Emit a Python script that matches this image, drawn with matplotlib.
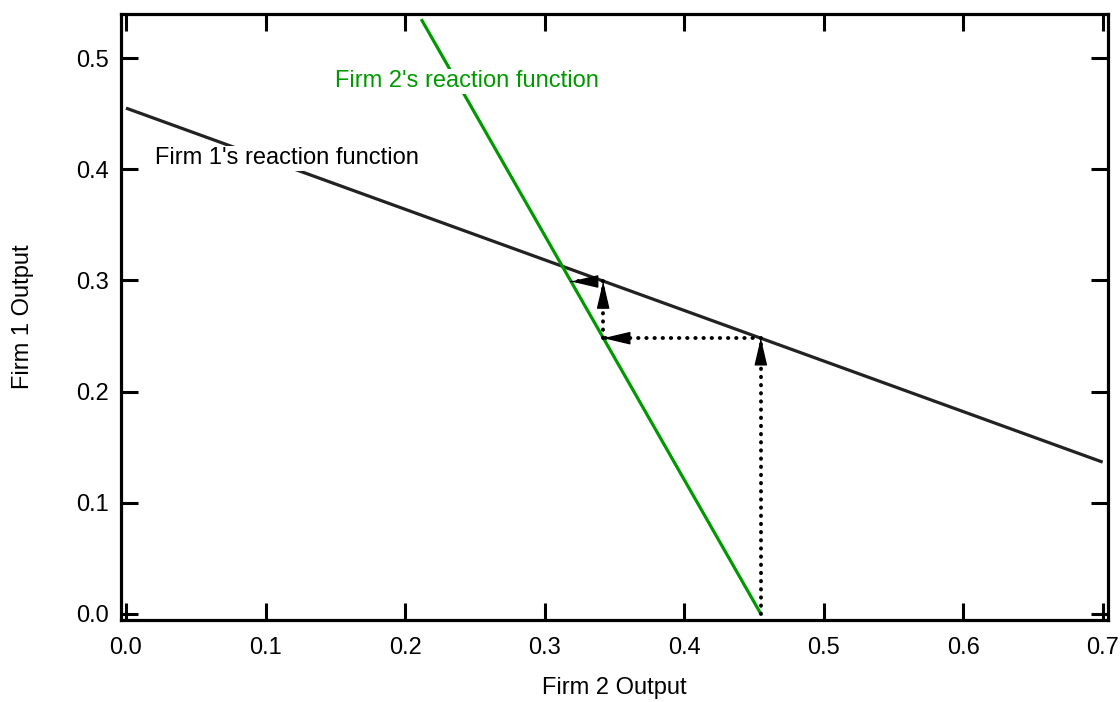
import numpy as np
import matplotlib
matplotlib.use('Agg')
import matplotlib.pyplot as plt

plt.rcParams['font.family'] = ['Liberation Sans', 'DejaVu Sans']

# reaction functions (firm 2 output on x, firm 1 output on y)
firm1_q2 = [0.0, 0.70]
firm1_q1 = [0.455, 0.1365]
firm2_q2 = [0.2116, 0.455]
firm2_q1 = [0.535, 0.0]

# adjustment path (dotted arrows)
path_q2 = [0.455, 0.455, 0.342, 0.342, 0.319]
path_q1 = [0.0, 0.248, 0.248, 0.299, 0.299]

fs = 17

fig = plt.figure(figsize=(11.2, 7.02), dpi=100)
ax = fig.add_axes([0.108, 0.117, 0.881, 0.863])

ax.plot(firm1_q2, firm1_q1, color='#222222', lw=2.3, solid_capstyle='butt', zorder=1)
ax.plot(firm2_q2, firm2_q1, color='#009900', lw=2.3, solid_capstyle='butt', zorder=1)

for i in range(len(path_q2) - 1):
    x0, y0 = path_q2[i], path_q1[i]
    x1, y1 = path_q2[i + 1], path_q1[i + 1]
    ax.plot([x0, x1], [y0, y1], color='black', lw=2.8, ls=(0, (0.1, 2.0)),
            dash_capstyle='round', zorder=2)
    ax.annotate('', xy=(x1, y1), xytext=(x1 - (x1 - x0) * 0.001, y1 - (y1 - y0) * 0.001),
                arrowprops=dict(arrowstyle='-|>,head_length=1.7,head_width=0.4',
                                mutation_scale=10, color='black', lw=1,
                                shrinkA=0, shrinkB=0), zorder=3)

ax.text(0.150, 0.479, "Firm 2's reaction function", color='#009900', fontsize=fs,
        va='center', ha='left', zorder=4,
        bbox=dict(facecolor='white', edgecolor='none', pad=1))
ax.text(0.021, 0.410, "Firm 1's reaction function", color='black', fontsize=fs,
        va='center', ha='left', zorder=4,
        bbox=dict(facecolor='white', edgecolor='none', pad=1))

ax.set_xlim(-0.0036, 0.7036)
ax.set_ylim(-0.0054, 0.5396)
xt = np.arange(0, 0.71, 0.1)
yt = np.arange(0, 0.51, 0.1)
ax.set_xticks(xt)
ax.set_yticks(yt)
ax.set_xticklabels(['%.1f' % v for v in xt])
ax.set_yticklabels(['%.1f' % v for v in yt])

ax.tick_params(which='major', direction='in', length=12, width=2.2,
               top=True, right=True, labelsize=fs)
ax.tick_params(axis='x', pad=12)
ax.tick_params(axis='y', pad=9)
for s in ax.spines.values():
    s.set_linewidth(2.3)

ax.set_xlabel('Firm 2 Output', fontsize=fs, labelpad=13)
ax.set_ylabel('Firm 1 Output', fontsize=fs, labelpad=30)

fig.savefig('out.png', dpi=100)
